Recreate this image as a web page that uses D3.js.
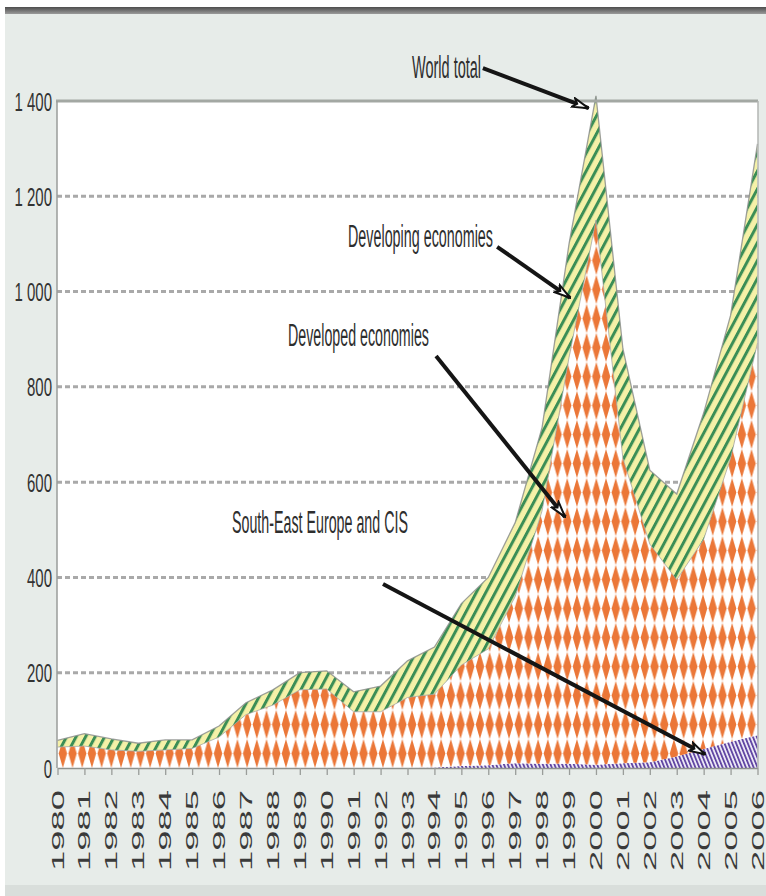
<!DOCTYPE html>
<html><head><meta charset="utf-8">
<script src="https://cdn.jsdelivr.net/npm/d3@7"></script>
<style>
html,body{margin:0;padding:0;background:#fff;}
svg{display:block;}
text{font-family:"Liberation Sans", Arial, sans-serif;}
</style></head><body>
<svg id="chart" width="766" height="896"></svg>
<script>
// ---------- data (US$ billions, FDI inflows) ----------
const years = [1980,1981,1982,1983,1984,1985,1986,1987,1988,1989,1990,1991,1992,1993,1994,1995,1996,1997,1998,1999,2000,2001,2002,2003,2004,2005,2006];
const seeCis     = [0,0,0,0,0,0,0,0,0,0,0,0,0,0,1,4,6,10,9,9,7,10,12,24,40,55,69];
const developed  = [44,46,38,35,38,41,65,112,132,164,166,118,118,148,154,212,244,350,531,853,1143,640,458,371,440,595,823];
const developing = [14,26,23,17,21,18,23,25,32,36,38,42,54,77,99,129,150,155,175,238,261,230,155,180,265,300,418];
const yTickValues = [0,200,400,600,800,1000,1200,1400];
const yTickLabels = ["0","200","400","600","800","1 000","1 200","1 400"];
const seriesKeys = ["see","developed","developing"];
// annotations: label anchor (year, value) and arrow tail/head (year, value)
const annotations = [
  {text:"World total",               tx:1993.17, tv:1448, width:69,  x1:1995.8,  v1:1469, x2:1999.72, v2:1385},
  {text:"Developing economies",      tx:1990.79, tv:1094, width:145, x1:1996.33, v1:1094, x2:1999.04, v2:987},
  {text:"Developed economies",       tx:1988.56, tv:886,  width:141, x1:1994.06, v1:865,  x2:1998.85, v2:527},
  {text:"South-East Europe and CIS", tx:1986.48, tv:493,  width:176, x1:1992.09, v1:386,  x2:2004.05, v2:29}
];

// ---------- layout ----------
const plot = {left:57, right:758, top:101, bottom:768};
const svg = d3.select("#chart");
const x = d3.scaleLinear().domain([1980,2006]).range([plot.left+0.5, plot.right-0.5]);
const y = d3.scaleLinear().domain([0,1400]).range([plot.bottom, plot.top]);

const defs = svg.append("defs");
const g1 = defs.append("linearGradient").attr("id","topband").attr("x1",0).attr("y1",0).attr("x2",0).attr("y2",1);
g1.append("stop").attr("offset","0%").attr("stop-color","#4d4d4d");
g1.append("stop").attr("offset","100%").attr("stop-color","#9a9a9a");

// diamonds (developed)
const dW = 9.7, dH = 29;
const dia = defs.append("pattern").attr("id","dia").attr("patternUnits","userSpaceOnUse")
  .attr("width",dW).attr("height",dH).attr("x",plot.left+1).attr("y",plot.bottom);
dia.append("rect").attr("width",dW).attr("height",dH).attr("fill","#ffffff");
const dw = dW*0.43;
dia.append("path").attr("d",`M${dW/2},0 L${dW/2+dw},${dH/2} L${dW/2},${dH} L${dW/2-dw},${dH/2}Z`).attr("fill","#eb7738");

// stripes (developing)
const sP = 8.4;
const st = defs.append("pattern").attr("id","stripe").attr("patternUnits","userSpaceOnUse")
  .attr("width",sP).attr("height",sP).attr("patternTransform","rotate(28)");
st.append("rect").attr("width",sP).attr("height",sP).attr("fill","#f5f1a8");
st.append("rect").attr("width",3).attr("height",sP).attr("fill","#3b8e56");

// hatch (SEE & CIS)
const hP = 3.6;
const ht = defs.append("pattern").attr("id","hatch").attr("patternUnits","userSpaceOnUse")
  .attr("width",hP).attr("height",hP).attr("patternTransform","rotate(-22)");
ht.append("rect").attr("width",hP).attr("height",hP).attr("fill","#ebe7f5");
ht.append("rect").attr("width",1.7).attr("height",hP).attr("fill","#5b3f9f");

defs.append("marker").attr("id","arrow").attr("viewBox","0 0 18 12").attr("refX",17).attr("refY",6)
  .attr("markerWidth",18).attr("markerHeight",12).attr("markerUnits","userSpaceOnUse").attr("orient","auto")
  .append("path").attr("d","M1,1.5 L17,6 L1,10.5 L5,6 Z").attr("fill","#fff").attr("stroke","#111").attr("stroke-width",2).attr("stroke-linejoin","miter");

// ---------- background ----------
svg.append("rect").attr("width",766).attr("height",896).attr("fill","#ffffff");
svg.append("rect").attr("x",5).attr("y",7).attr("width",761).attr("height",889).attr("fill","#e7ece9");
svg.append("rect").attr("x",5).attr("y",7).attr("width",761).attr("height",7).attr("fill","url(#topband)");
svg.append("rect").attr("x",5).attr("y",885).attr("width",761).attr("height",11).attr("fill","#d9dedb");
svg.append("rect").attr("x",plot.left).attr("y",plot.top).attr("width",plot.right-plot.left).attr("height",plot.bottom-plot.top).attr("fill","#ffffff");

// gridlines
svg.append("g").selectAll("line").data(yTickValues.filter(v=>v>0 && v<1400)).join("line")
  .attr("x1",plot.left).attr("x2",plot.right).attr("y1",d=>y(d)).attr("y2",d=>y(d))
  .attr("stroke","#a9a9a9").attr("stroke-width",3).attr("stroke-dasharray","5,3");

// ---------- stacked areas ----------
const rows = years.map((yr,i)=>({year:yr, see:seeCis[i], developed:developed[i], developing:developing[i]}));
const stacked = d3.stack().keys(seriesKeys)(rows);
const area = d3.area().x(d=>x(d.data.year)).y0(d=>y(d[0])).y1(d=>y(d[1]));
const fills = {see:"url(#hatch)", developed:"url(#dia)", developing:"url(#stripe)"};
svg.append("g").selectAll("path").data(stacked).join("path")
  .attr("d",area).attr("fill",d=>fills[d.key]);
// soft outlines of the developing band
const topLine = d3.line().x(d=>x(d.data.year)).y(d=>y(d[1]));
svg.append("path").attr("d",topLine(stacked[2])).attr("fill","none").attr("stroke","#8c8f8c").attr("stroke-width",1.3).attr("opacity",0.85);
svg.append("path").attr("d",topLine(stacked[1])).attr("fill","none").attr("stroke","#9c9c9c").attr("stroke-width",1).attr("opacity",0.7);

// ---------- frame & axes ----------
svg.append("line").attr("x1",plot.left-1).attr("x2",plot.right).attr("y1",plot.top).attr("y2",plot.top).attr("stroke","#a3a8a3").attr("stroke-width",3);
svg.append("line").attr("x1",plot.right).attr("x2",plot.right).attr("y1",plot.top).attr("y2",plot.bottom).attr("stroke","#b3b6b3").attr("stroke-width",1.5);
svg.append("line").attr("x1",plot.left).attr("x2",plot.left).attr("y1",plot.top).attr("y2",plot.bottom).attr("stroke","#9a9d9a").attr("stroke-width",1.5);

const xAxis = svg.append("g").attr("transform",`translate(0,${plot.bottom})`)
  .call(d3.axisBottom(x).tickValues(years).tickFormat(d3.format("d")).tickSize(7).tickSizeOuter(0));
xAxis.select(".domain").attr("stroke","#8e918e").attr("stroke-width",1.5);
xAxis.selectAll(".tick line").attr("stroke","#9a9d9a").attr("stroke-width",1.3);
xAxis.selectAll(".tick text")
  .attr("font-size",17).attr("fill","#3a3a3a").attr("text-anchor","end")
  .attr("dy",null).attr("y",null)
  .attr("transform","translate(5.5,22) rotate(-90) scale(2.14,1)");

const yAxis = svg.append("g").attr("transform",`translate(${plot.left},0)`)
  .call(d3.axisLeft(y).tickValues(yTickValues).tickFormat((d,i)=>yTickLabels[i]).tickSize(0));
yAxis.select(".domain").remove();
yAxis.selectAll(".tick text")
  .attr("font-size",25).attr("fill","#333").attr("text-anchor","end")
  .attr("x",null).attr("dy",null)
  .attr("transform","translate(-5,9) scale(0.6,1)");

// ---------- annotations ----------
const ann = svg.append("g");
ann.selectAll("line").data(annotations).join("line")
  .attr("x1",d=>x(d.x1)).attr("y1",d=>y(d.v1)).attr("x2",d=>x(d.x2)).attr("y2",d=>y(d.v2))
  .attr("stroke","#151515").attr("stroke-width",4).attr("marker-end","url(#arrow)");
ann.selectAll("text").data(annotations).join("text")
  .attr("x",d=>x(d.tx)).attr("y",d=>y(d.tv))
  .attr("font-size",31).attr("fill","#2e2e2e")
  .attr("textLength",d=>d.width).attr("lengthAdjust","spacingAndGlyphs")
  .text(d=>d.text);
</script>
</body></html>
